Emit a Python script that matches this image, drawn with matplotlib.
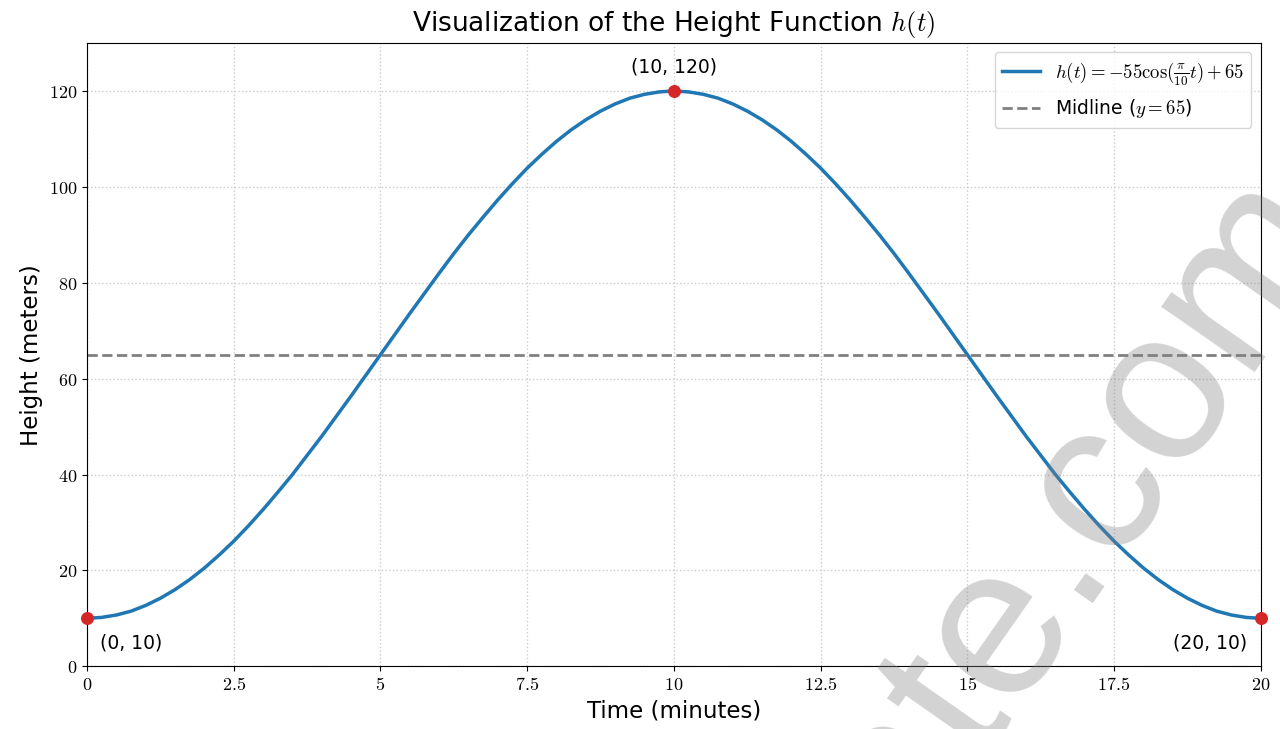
import matplotlib
matplotlib.use("Agg")
import matplotlib.pyplot as plt
import numpy as np
from matplotlib.ticker import FuncFormatter

plt.rcParams["mathtext.fontset"] = "cm"

times = np.arange(0, 20.25, 0.25)
rising = [10.0, 10.2, 10.7, 11.5, 12.7, 14.2, 16.0, 18.1, 20.5, 23.2,
          26.1, 29.3, 32.7, 36.3, 40.0, 44.0, 48.0, 52.2, 56.4, 60.7,
          65.0, 69.3, 73.6, 77.8, 82.0, 86.1, 90.0, 93.7, 97.3, 100.7,
          103.9, 106.8, 109.5, 111.9, 114.0, 115.8, 117.3, 118.5, 119.3, 119.8,
          120.0]
falling = [119.8, 119.3, 118.5, 117.3, 115.8, 114.0, 111.9, 109.5, 106.8, 103.9,
           100.7, 97.3, 93.7, 90.0, 86.1, 82.0, 77.8, 73.6, 69.3, 65.0,
           60.7, 56.4, 52.2, 48.0, 44.0, 40.0, 36.3, 32.7, 29.3, 26.1,
           23.2, 20.5, 18.1, 16.0, 14.2, 12.7, 11.5, 10.7, 10.2, 10.0]
heights = rising + falling
midline = 65
key_t = [0, 10, 20]
key_h = [10, 120, 10]
key_labels = ["(0, 10)", "(10, 120)", "(20, 10)"]
x_ticks = [0, 2.5, 5, 7.5, 10, 12.5, 15, 17.5, 20]
y_ticks = [0, 20, 40, 60, 80, 100, 120]

fig, ax = plt.subplots(figsize=(12.8, 7.29), dpi=100)
fig.subplots_adjust(left=0.068, right=0.985, top=0.941, bottom=0.086)

ax.plot(times, heights, color="#1f77b4", lw=2.5,
        label=r"$h(t) = -55\cos(\frac{\pi}{10}t) + 65$")
ax.axhline(midline, color="gray", ls="--", lw=2, label=r"Midline ($y = 65$)")
ax.scatter(key_t, key_h, color="#d62728", s=70, zorder=5, clip_on=False)

offsets = [(9, -18), (0, 17), (-10, -18)]
aligns = ["left", "center", "right"]
for t, h, lab, off, ha in zip(key_t, key_h, key_labels, offsets, aligns):
    ax.annotate(lab, (t, h), xytext=off, textcoords="offset points",
                ha=ha, va="center", fontsize=13.5)

ax.set_xlim(0, 20)
ax.set_ylim(0, 130)
ax.set_xticks(x_ticks)
ax.set_yticks(y_ticks)
ax.xaxis.set_major_formatter(FuncFormatter(lambda v, p: f"${v:g}$"))
ax.yaxis.set_major_formatter(FuncFormatter(lambda v, p: f"${v:g}$"))
ax.tick_params(labelsize=13)
ax.grid(True, ls=":", color="#cccccc", lw=1)

ax.set_title(r"Visualization of the Height Function $h(t)$", fontsize=19, pad=9)
ax.set_xlabel("Time (minutes)", fontsize=16.5)
ax.set_ylabel("Height (meters)", fontsize=16.5)
ax.legend(loc="upper right", fontsize=13.5)

# watermark
fig.text(0.845, 0.30, "ate.com", fontsize=155, family="Liberation Sans",
         color="gray", alpha=0.35, rotation=55, ha="center", va="center",
         zorder=10)

fig.savefig("out.png", dpi=100)
